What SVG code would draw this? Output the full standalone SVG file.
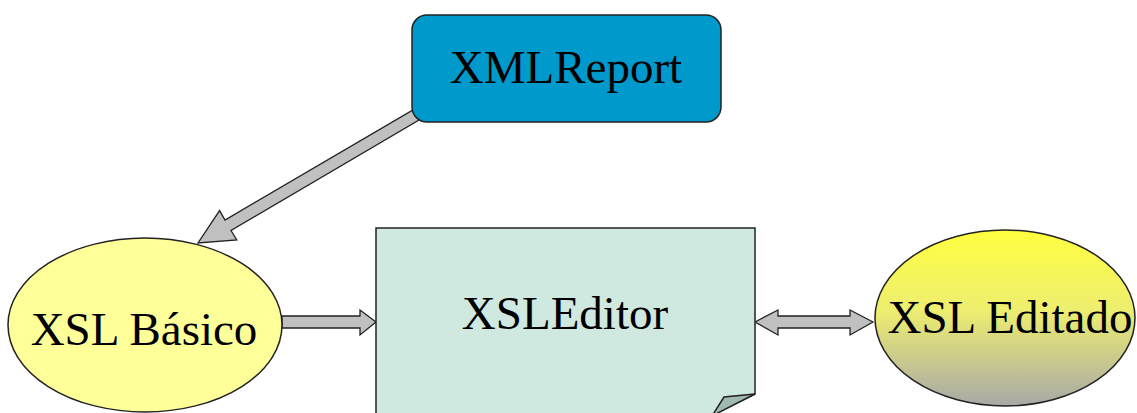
<svg xmlns="http://www.w3.org/2000/svg" width="1137" height="413" viewBox="0 0 1137 413">
  <defs>
    <linearGradient id="gEdit" x1="0" y1="0" x2="0" y2="1">
      <stop offset="0" stop-color="#ffff40"/>
      <stop offset="0.45" stop-color="#eeee70"/>
      <stop offset="1" stop-color="#a8a8a8"/>
    </linearGradient>
  </defs>
  <style>
    .lbl { font-family: "Liberation Serif", "Times New Roman", serif; font-size: 47px; fill: #000; text-anchor: middle; }
    .arrow { fill: #c0c0c0; stroke: #222; stroke-width: 1.3; stroke-linejoin: miter; }
    .shape { stroke: #222; stroke-width: 1.5; }
  </style>
  <rect width="1137" height="413" fill="#fff"/>
  <g id="connectors">
    <polygon class="arrow" points="419,120 413,110 225,220 219.6,210.6 198,243 236.8,240 231,230.5"/>
    <polygon class="arrow" points="282,316 360,316 360,310 376,322 360,335 360,328 282,328"/>
    <polygon class="arrow" points="755,322 778,310 778,316 850,316 850,310 873,322 850,335 850,328 778,328 778,335"/>
  </g>
  <g id="XMLReport">
    <rect class="shape" x="412" y="15" width="309" height="107" rx="15" ry="15" fill="#0099cc"/>
    <text class="lbl" x="566" y="83">XMLReport</text>
  </g>
  <g id="XSLBasico">
    <ellipse class="shape" cx="145" cy="325" rx="137" ry="87" fill="#ffff99"/>
    <text class="lbl" x="144" y="345">XSL Básico</text>
  </g>
  <g id="XSLEditor">
    <path class="shape" d="M376,228 H755 V394 L710,416 H376 Z" fill="#cfe8e0"/>
    <polygon class="shape" points="755,394 724,397 712,416" fill="#a0bab2" stroke-width="1"/>
    <text class="lbl" x="565" y="329">XSLEditor</text>
  </g>
  <g id="XSLEditado">
    <ellipse class="shape" cx="1005" cy="318" rx="130" ry="88" fill="url(#gEdit)"/>
    <text class="lbl" x="1010" y="333">XSL Editado</text>
  </g>
</svg>
